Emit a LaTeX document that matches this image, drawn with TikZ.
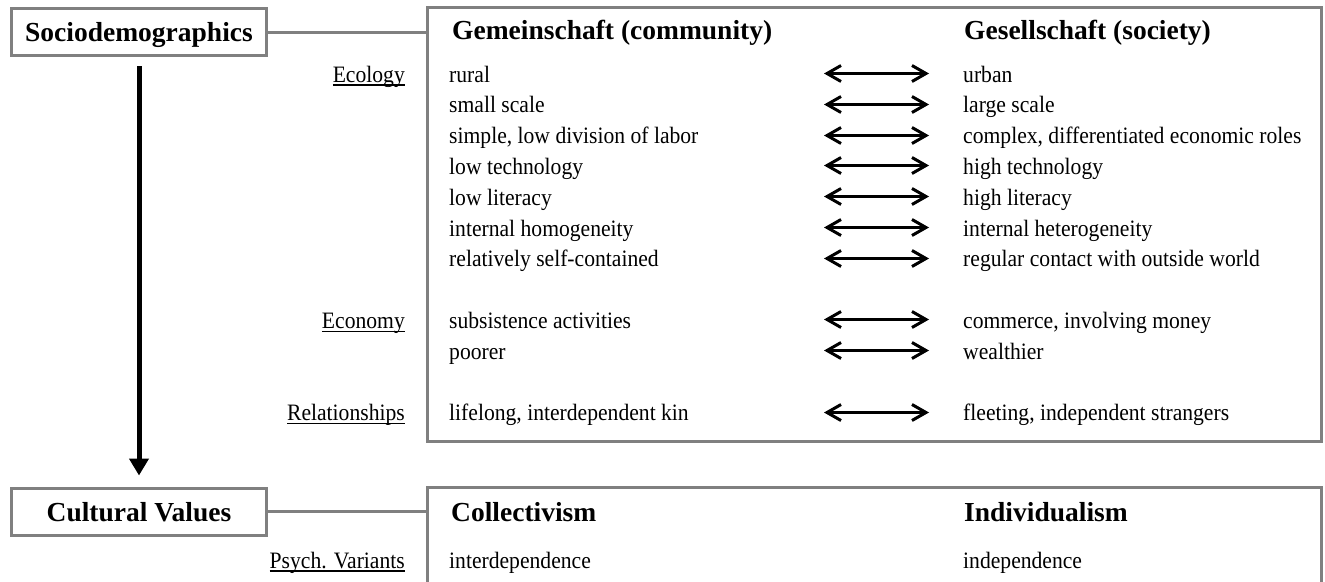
\documentclass[tikz,border=0pt]{standalone}
\usepackage{fontspec}
\setmainfont{Liberation Serif}
\newfontfamily\condserif{Liberation Serif}[FakeStretch=0.92]
\usetikzlibrary{arrows.meta}
\definecolor{boxgray}{HTML}{808080}
\newcommand\myul[1]{\setbox0\hbox{#1}\rlap{\rule[-3.5pt]{\wd0}{1.4pt}}\box0}
\begin{document}
\begin{tikzpicture}[x=1pt,y=-1pt,
  catbox/.style={draw=boxgray, line width=3pt, minimum width=255pt, minimum height=47pt, inner sep=0pt, text height=19pt, text depth=0pt, font=\fontsize{27.5}{30}\selectfont\bfseries},
  panel/.style={draw=boxgray, line width=3pt, inner sep=0pt, minimum width=894pt},
  link/.style={draw=boxgray, line width=3pt},
  head/.style={anchor=base west, inner sep=0pt, font=\fontsize{27.5}{30}\selectfont\bfseries},
  item/.style={anchor=base west, inner sep=0pt, font=\condserif\fontsize{23.5}{26}\selectfont},
  lab/.style={anchor=base east, inner sep=0pt, font=\condserif\fontsize{23.5}{26}\selectfont},
  dbl/.style={line width=3pt, {Straight Barb[length=14pt,width=16pt]}-{Straight Barb[length=14pt,width=16pt]}},
  flow/.style={line width=5pt, -{Triangle[length=17pt,width=19pt]}}
]
\useasboundingbox (0,0) rectangle (1325,581);
\clip (0,0) rectangle (1325,581);

\node[catbox] (socio) at (139,32) {Sociodemographics};
\node[catbox] (cv) at (139,511.5) {Cultural Values};
\node[panel, minimum height=434pt] (p1) at (874,224.5) {};
\node[panel, minimum height=132.5pt] (p2) at (874,553.75) {};

\draw[link] (socio.east) -- (socio.east -| p1.west);
\draw[link] (cv.east) -- (cv.east -| p2.west);
\draw[flow, shorten <=9pt, shorten >=11pt] (socio.south) -- (cv.north);

\node[head] (hG) at (452,39) {Gemeinschaft (community)};
\node[head] (hS) at (964,39) {Gesellschaft (society)};
\node[head] (hC) at (451,521) {Collectivism};
\node[head] (hI) at (964,521) {Individualism};

\node[lab] (labE) at (405,82) {\myul{Ecology}};
\node[lab] (labEc) at (405,328.4) {\myul{Economy}};
\node[lab] (labR) at (405,420.8) {\myul{Relationships}};
\node[lab] (labP) at (405,568) {\myul{Psych. Variants}};

\foreach \b/\l/\r [count=\i] in {
  82/rural/urban,
  112.8/small scale/large scale,
  143.6/{simple, low division of labor}/{complex, differentiated economic roles},
  174.4/low technology/high technology,
  205.2/low literacy/high literacy,
  236/internal homogeneity/internal heterogeneity,
  266.8/relatively self-contained/regular contact with outside world,
  328.4/subsistence activities/{commerce, involving money},
  359.2/poorer/wealthier,
  420.8/{lifelong, interdependent kin}/{fleeting, independent strangers}} {
  \node[item] (L\i) at (449,\b) {\l};
  \node[item] (R\i) at (963,\b) {\r};
  \coordinate (A\i) at (824,{round(\b)-8.5});
  \coordinate (B\i) at (929,{round(\b)-8.5});
  \draw[dbl] (A\i) -- (B\i);
}

\node[item] (Lp) at (449,568) {interdependence};
\node[item] (Rp) at (963,568) {independence};
\end{tikzpicture}
\end{document}
